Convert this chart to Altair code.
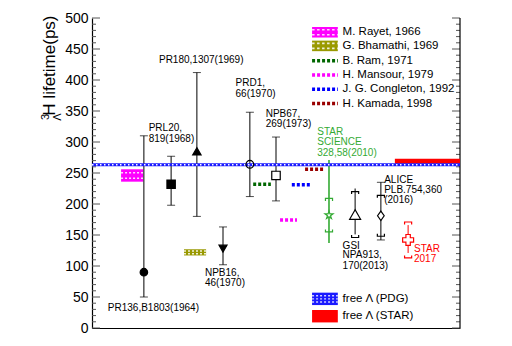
import altair as alt
import pandas as pd

FONT = "Liberation Sans"
W, H = 368, 310
GREEN = "#33aa33"
RED = "#ff0000"

# ---------------- experimental measurements ----------------
exp_id = ["PR136", "PRL20", "PR180", "NPB16", "PRD1", "NPB67",
          "STAR2010", "GSI", "ALICE", "STAR2017"]
exp_x = [14.1, 21.5, 28.5, 35.6, 42.9, 50.0, 64.4, 71.5, 78.5, 85.9]
exp_tau = [90, 232, 285, 128, 264, 246, 182, 183, 181, 142]
exp_hi = [310, 277, 412, 163, 348, 308, 271, 225, 235, 166]
exp_lo = [50, 198, 180, 102, 212, 205, 137, 151, 142, 121]

# systematic brackets
sys_id = ["STAR2010", "GSI", "ALICE", "STAR2017"]
sys_hi = [209, 220, 214, 171]
sys_lo = [155, 146, 148, 113]

# ---------------- theory ----------------
box_label = ["M. Rayet, 1966", "G. Bhamathi, 1969"]
box_x1 = [7.9, 25.0]
box_x2 = [13.9, 31.0]
box_lo = [236, 117]
box_hi = [256, 127]

line_label = ["B. Ram, 1971", "H. Mansour, 1979", "J. G. Congleton, 1992", "H. Kamada, 1998"]
line_x1 = [43.8, 51.1, 54.3, 57.9]
line_x2 = [48.6, 55.7, 59.5, 62.8]
line_val = [232, 174, 231, 256]

# free Lambda
pdg_tau = 263.2
pdg_err = 2.4
star_free_lo = 265
star_free_hi = 273
star_free_x1 = 82.3

# annotations
ann_text = ["PR136,B1803(1964)", "PRL20,", "819(1968)", "PR180,1307(1969)",
            "PRD1,", "66(1970)", "NPB67,", "269(1973)", "NPB16,", "46(1970)",
            "STAR", "SCIENCE", "328,58(2010)", "GSI", "NPA913,", "170(2013)",
            "ALICE", "PLB.754,360", "(2016)", "STAR", "2017"]
ann_x = [4.3, 15.4, 15.4, 18.2, 39.0, 39.0, 47.2, 47.2, 30.7, 30.7,
         61.2, 61.2, 61.2, 68.1, 68.1, 68.1, 79.4, 79.4, 79.4, 87.5, 87.5]
ann_y = [32, 322, 305, 433, 395, 377, 345, 329, 88, 72,
         316, 300, 283, 133, 117, 100, 239, 223, 206, 127, 111]
ann_group = ["k"] * 10 + ["g"] * 3 + ["k"] * 6 + ["r"] * 2

# legend
leg_label = box_label + line_label
leg_y = [477, 455, 431, 408, 385, 362]
leg2_label = ["free \u039b (PDG)", "free \u039b (STAR)"]
leg2_y = [47, 19]
LEG_X1, LEG_X2, LEG_TX = 59.8, 66.8, 68.1

# ---------------- styles ----------------
exp_color = {"STAR2010": GREEN, "STAR2017": RED}
box_color = ["#ff00ff", "#999900"]
line_color = ["#006600", "#ff00ff", "#0000ff", "#990000"]
group_color = {"k": "black", "g": GREEN, "r": RED}
BLUE = "#1a1aff"

STAR_PATH = ("M0,-1L0.225,-0.309L0.951,-0.309L0.363,0.118L0.588,0.809L0,0.382"
             "L-0.588,0.809L-0.363,0.118L-0.951,-0.309L-0.225,-0.309Z")
DIAMOND = "M0,-1L0.7,0L0,1L-0.7,0Z"
UP_BRACKET = "M-1,0.7L-1,0L1,0L1,0.7"
LO_BRACKET = "M-1,-0.7L-1,0L1,0L1,-0.7"
marker_style = {
    "PR136": ("circle", "black", 56),
    "PRL20": ("square", "black", 70),
    "PR180": ("triangle-up", "black", 70),
    "NPB16": ("triangle-down", "black", 64),
    "PRD1": ("circle", None, 60),
    "NPB67": ("square", "white", 72),
    "STAR2010": (STAR_PATH, "white", 70),
    "GSI": ("triangle-up", "white", 120),
    "ALICE": (DIAMOND, "white", 90),
    "STAR2017": ("cross", "white", 120),
}
capped = ["PR136", "PRL20", "PR180", "NPB16", "PRD1", "NPB67", "ALICE"]

xs = alt.Scale(domain=[0, 100], nice=False, zero=False)
ys = alt.Scale(domain=[0, 500], nice=False)
XAXIS = alt.Axis(labels=False, ticks=False, title=None, grid=False,
                 domainColor="black", domainWidth=1.2)
YAXIS = alt.Axis(
    values=list(range(0, 501, 50)), labelFontSize=14, labelFont=FONT, labelColor="black",
    ticks=False, labelPadding=4, labelFlush=False, domainColor="black", domainWidth=1.2,
    grid=False, title="H lifetime(ps)", titleFontSize=17, titleFont=FONT,
    titleFontWeight="normal", titleColor="black", titleAnchor="end", titleAlign="right",
    titleAngle=270, titleBaseline="bottom", titleX=-34, titleY=-3)


def X(f):
    return alt.X(f, type="quantitative", scale=xs, axis=XAXIS)


def Y(f):
    return alt.Y(f, type="quantitative", scale=ys, axis=YAXIS)


exp_df = pd.DataFrame(dict(id=exp_id, x=exp_x, tau=exp_tau, hi=exp_hi, lo=exp_lo))
exp_df["color"] = [exp_color.get(i, "black") for i in exp_id]
exp_df["sw"] = [1.6 if i == "STAR2010" else 1.0 for i in exp_id]
xmap = dict(zip(exp_id, exp_x))
sys_df = pd.DataFrame(dict(id=sys_id, hi=sys_hi, lo=sys_lo))
sys_df["x"] = [xmap[i] for i in sys_id]
sys_df["color"] = [exp_color.get(i, "black") for i in sys_id]

layers = []
pdg_df = pd.DataFrame({"x1": [0], "x2": [100], "lo": [pdg_tau - pdg_err], "hi": [pdg_tau + pdg_err]})

# inward ticks (left and right)
tick_df = pd.DataFrame({"v": list(range(0, 501, 10))})
tick_df["major"] = tick_df["v"] % 50 == 0
for major, ln in [(True, 8), (False, 4)]:
    d = tick_df[tick_df["major"] == major]
    layers.append(alt.Chart(d).mark_rule(color="#555555", strokeWidth=1).encode(
        y=Y("v"), x=alt.value(0), x2=alt.value(ln)))
    layers.append(alt.Chart(d).mark_rule(color="#555555", strokeWidth=1).encode(
        y=Y("v"), x=alt.value(W), x2=alt.value(W - ln)))
# right frame line
layers.append(alt.Chart(pd.DataFrame({"a": [0]})).mark_rule(color="black", strokeWidth=1.2).encode(
    x=alt.value(W), y=alt.value(0), y2=alt.value(H)))

# theory boxes (hatched look)
bdf = pd.DataFrame(dict(label=box_label, x1=box_x1, x2=box_x2, lo=box_lo, hi=box_hi, color=box_color))
layers.append(alt.Chart(bdf).mark_rect().encode(
    x=X("x1"), x2="x2", y=Y("lo"), y2="hi", color=alt.Color("color:N", scale=None)))
hatch_rows = []
for _, r in bdf.iterrows():
    for f in (0.28, 0.72):
        hatch_rows.append({"x1": r.x1, "x2": r.x2, "y": r.lo + f * (r.hi - r.lo)})
layers.append(alt.Chart(pd.DataFrame(hatch_rows)).mark_rule(
    color="white", strokeWidth=1.6, strokeDash=[2, 2], opacity=0.85).encode(
    x=X("x1"), x2="x2", y=Y("y")))

# theory dotted lines
ldf = pd.DataFrame(dict(label=line_label, x1=line_x1, x2=line_x2, v=line_val, color=line_color))
layers.append(alt.Chart(ldf).mark_rule(strokeWidth=3.5, strokeDash=[3, 2]).encode(
    x=X("x1"), x2="x2", y=Y("v"), color=alt.Color("color:N", scale=None)))

# error bars
layers.append(alt.Chart(exp_df).mark_rule().encode(
    x=X("x"), y=Y("lo"), y2="hi", color=alt.Color("color:N", scale=None),
    strokeWidth=alt.StrokeWidth("sw:Q", scale=None)))
cap_df = exp_df[exp_df["id"].isin(capped)]
layers.append(alt.Chart(cap_df).transform_fold(["hi", "lo"], as_=["k", "v"]).mark_tick(
    orient="horizontal", size=8, thickness=1, color="black").encode(x=X("x"), y=Y("v")))

# systematic brackets
layers.append(alt.Chart(sys_df).mark_point(shape=UP_BRACKET, filled=False, size=50,
                                           strokeWidth=1.2, opacity=1).encode(
    x=X("x"), y=Y("hi"), stroke=alt.Stroke("color:N", scale=None)))
layers.append(alt.Chart(sys_df).mark_point(shape=LO_BRACKET, filled=False, size=50,
                                           strokeWidth=1.2, opacity=1).encode(
    x=X("x"), y=Y("lo"), stroke=alt.Stroke("color:N", scale=None)))

# free Lambda bands
sdf = pd.DataFrame({"x1": [star_free_x1], "x2": [100], "lo": [star_free_lo], "hi": [star_free_hi]})
layers.append(alt.Chart(sdf).mark_rect(color=RED).encode(x=X("x1"), x2="x2", y=Y("lo"), y2="hi"))
layers.append(alt.Chart(pdg_df).mark_rect(color=BLUE).encode(x=X("x1"), x2="x2", y=Y("lo"), y2="hi"))
pdg_line = pd.DataFrame({"x1": [0], "x2": [100], "v": [pdg_tau]})
layers.append(alt.Chart(pdg_line).mark_rule(color="white", strokeWidth=1.4, strokeDash=[1.5, 2.5]).encode(
    x=X("x1"), x2="x2", y=Y("v")))

# markers
for i in exp_id:
    shape, fill, size = marker_style[i]
    col = exp_color.get(i, "black")
    d = exp_df[exp_df["id"] == i]
    if fill is None:
        mk = alt.Chart(d).mark_point(shape=shape, filled=False, size=size, stroke=col,
                                     strokeWidth=1.2, opacity=1)
    else:
        mk = alt.Chart(d).mark_point(shape=shape, filled=True, size=size,
                                     fill=fill if fill != "black" else col,
                                     stroke=col, strokeWidth=1.2, opacity=1)
    layers.append(mk.encode(x=X("x"), y=Y("tau")))

# annotations
adf = pd.DataFrame(dict(t=ann_text, x=ann_x, y=ann_y, g=ann_group))
adf["color"] = [group_color[g] for g in ann_group]
layers.append(alt.Chart(adf).mark_text(align="left", baseline="middle", fontSize=10, font=FONT).encode(
    x=X("x"), y=Y("y"), text="t:N", color=alt.Color("color:N", scale=None)))

# legend (upper)
lg = pd.DataFrame(dict(label=leg_label, y=leg_y))
lg["x1"], lg["x2"], lg["tx"] = LEG_X1, LEG_X2, LEG_TX
lgb = lg.iloc[:2].copy()
lgb["color"] = box_color
lgb["lo"], lgb["hi"] = lgb["y"] - 8.5, lgb["y"] + 8.5
layers.append(alt.Chart(lgb).mark_rect().encode(
    x=X("x1"), x2="x2", y=Y("lo"), y2="hi", color=alt.Color("color:N", scale=None)))
lh = []
for _, r in lgb.iterrows():
    for off in (-4, 4):
        lh.append({"x1": r.x1, "x2": r.x2, "y": r.y + off})
layers.append(alt.Chart(pd.DataFrame(lh)).mark_rule(
    color="white", strokeWidth=1.6, strokeDash=[2.5, 2.5], opacity=0.85).encode(
    x=X("x1"), x2="x2", y=Y("y")))
lgl = lg.iloc[2:].copy()
lgl["color"] = line_color
layers.append(alt.Chart(lgl).mark_rule(strokeWidth=3.5, strokeDash=[3, 2]).encode(
    x=X("x1"), x2="x2", y=Y("y"), color=alt.Color("color:N", scale=None)))
layers.append(alt.Chart(lg).mark_text(align="left", baseline="middle", fontSize=11.5, font=FONT,
                                      color="black").encode(x=X("tx"), y=Y("y"), text="label:N"))

# legend (lower)
lg2 = pd.DataFrame(dict(label=leg2_label, y=leg2_y))
lg2["x1"], lg2["x2"], lg2["tx"] = LEG_X1, LEG_X2, LEG_TX
lg2["lo"], lg2["hi"] = lg2["y"] - 10, lg2["y"] + 10
lg2["color"] = [BLUE, RED]
layers.append(alt.Chart(lg2).mark_rect().encode(
    x=X("x1"), x2="x2", y=Y("lo"), y2="hi", color=alt.Color("color:N", scale=None)))
lh2 = []
r = lg2.iloc[0]
for off in (-5, 0, 5):
    lh2.append({"x1": r.x1, "x2": r.x2, "y": r.y + off})
layers.append(alt.Chart(pd.DataFrame(lh2)).mark_rule(
    color="white", strokeWidth=1.4, strokeDash=[2, 2], opacity=0.8).encode(
    x=X("x1"), x2="x2", y=Y("y")))
layers.append(alt.Chart(lg2).mark_text(align="left", baseline="middle", fontSize=11.5, font=FONT,
                                       color="black").encode(x=X("tx"), y=Y("y"), text="label:N"))

# title super/subscript
layers.append(alt.Chart(pd.DataFrame({"t": ["3"]})).mark_text(
    angle=270, fontSize=11, font=FONT, color="black").encode(
    text="t:N", x=alt.value(-46), y=alt.value(99)))
layers.append(alt.Chart(pd.DataFrame({"t": ["\u039b"]})).mark_text(
    angle=270, fontSize=11, font=FONT, color="black").encode(
    text="t:N", x=alt.value(-34), y=alt.value(99)))

chart = alt.layer(*layers).properties(
    width=W, height=H,
    autosize=alt.AutoSizeParams(type="none"),
    padding={"left": 84, "top": 10, "right": 36, "bottom": 8},
).configure_view(stroke=None)

chart.save("out.html", embed_options={"renderer": "svg", "actions": False})
